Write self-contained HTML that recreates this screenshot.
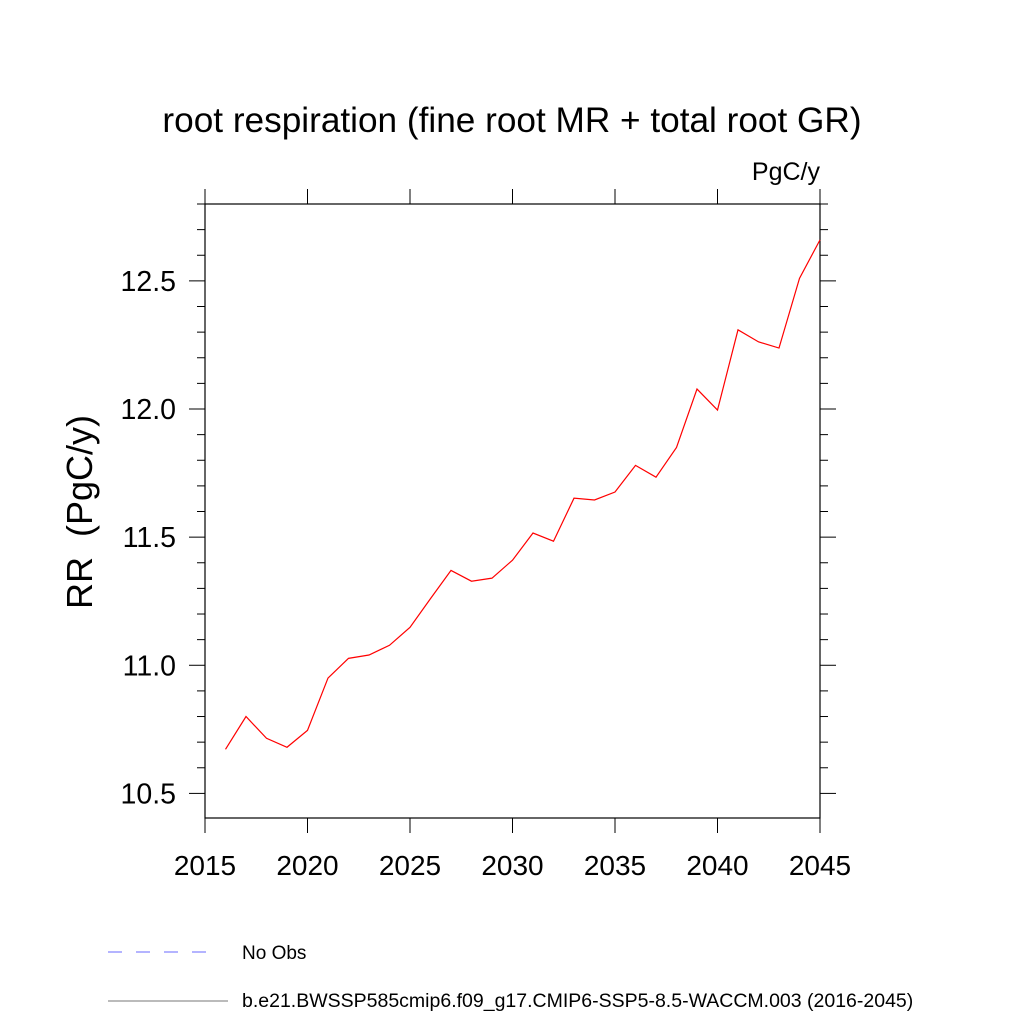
<!DOCTYPE html>
<html><head><meta charset="utf-8"><style>
body{margin:0;background:#fff}
svg text{font-family:"Liberation Sans",sans-serif;fill:#000}
</style></head><body>
<svg id="chart" width="1024" height="1024" xmlns="http://www.w3.org/2000/svg">
<rect width="1024" height="1024" fill="#fff"/>
<text x="512" y="132" font-size="35.2" text-anchor="middle">root respiration (fine root MR + total root GR)</text>
<text x="820" y="180" font-size="25" text-anchor="end">PgC/y</text>
<text transform="translate(92,512) rotate(-90)" font-size="36" text-anchor="middle" xml:space="preserve">RR  (PgC/y)</text>
<g id="axes"></g>
<g id="series"></g>
<g>
<line x1="108" y1="952" x2="216" y2="952" stroke="#6a6aff" stroke-width="1" stroke-dasharray="14,14"/>
<text x="242" y="959" font-size="19">No Obs</text>
<line x1="108" y1="1001" x2="228" y2="1001" stroke="#777" stroke-width="1"/>
<text x="242" y="1007" font-size="19.5">b.e21.BWSSP585cmip6.f09_g17.CMIP6-SSP5-8.5-WACCM.003 (2016-2045)</text>
</g>
</svg>
<script>
const years=[2016,2017,2018,2019,2020,2021,2022,2023,2024,2025,2026,2027,2028,2029,2030,2031,2032,2033,2034,2035,2036,2037,2038,2039,2040,2041,2042,2043,2044,2045];
const rr=[10.672,10.80,10.715,10.68,10.746,10.95,11.027,11.04,11.078,11.148,11.26,11.37,11.328,11.34,11.41,11.516,11.484,11.652,11.645,11.676,11.78,11.734,11.85,12.078,11.996,12.309,12.262,12.238,12.51,12.66];
const xTicks=[2015,2020,2025,2030,2035,2040,2045];
const yTicks=[10.5,11.0,11.5,12.0,12.5];
const NS="http://www.w3.org/2000/svg";
const L=205,R=820,T=204,B=818,x0=2015,x1=2045,y0=10.404,y1=12.8;
const X=v=>L+(v-x0)/(x1-x0)*(R-L);
const Y=v=>B-(v-y0)/(y1-y0)*(B-T);
const ax=document.getElementById('axes');
function mk(t,a,p){const e=document.createElementNS(NS,t);for(const k in a)e.setAttribute(k,a[k]);(p||ax).appendChild(e);return e;}
const fr=mk('rect',{x:L,y:T,width:R-L,height:B-T,fill:'none',stroke:'#000','stroke-width':1.2});


xTicks.forEach(v=>{const x=X(v);
const a=mk('line',{x1:x,y1:B,x2:x,y2:B+15,stroke:'#000'});


const b=mk('line',{x1:x,y1:T,x2:x,y2:T-15,stroke:'#000'});


const t=mk('text',{x:x,y:B+57,'font-size':28,'text-anchor':'middle'});t.textContent=v;

});
for(let v=10.5;v<=12.8001;v+=0.1){const y=Y(v);const major=Math.abs(v*2-Math.round(v*2))<1e-6;const len=major?16:8;
const a=mk('line',{x1:L,y1:y,x2:L-len,y2:y,stroke:'#000'});


const b=mk('line',{x1:R,y1:y,x2:R+len,y2:y,stroke:'#000'});

}
yTicks.forEach(v=>{const t=mk('text',{x:L-29,y:Y(v)+10,'font-size':28.5,'text-anchor':'end'});t.textContent=v.toFixed(1);

});
const pl=mk('polyline',{points:years.map((y,i)=>X(y)+','+Y(rr[i])).join(' '),fill:'none',stroke:'#f00','stroke-width':1.2},document.getElementById('series'));


</script>
</body></html>
